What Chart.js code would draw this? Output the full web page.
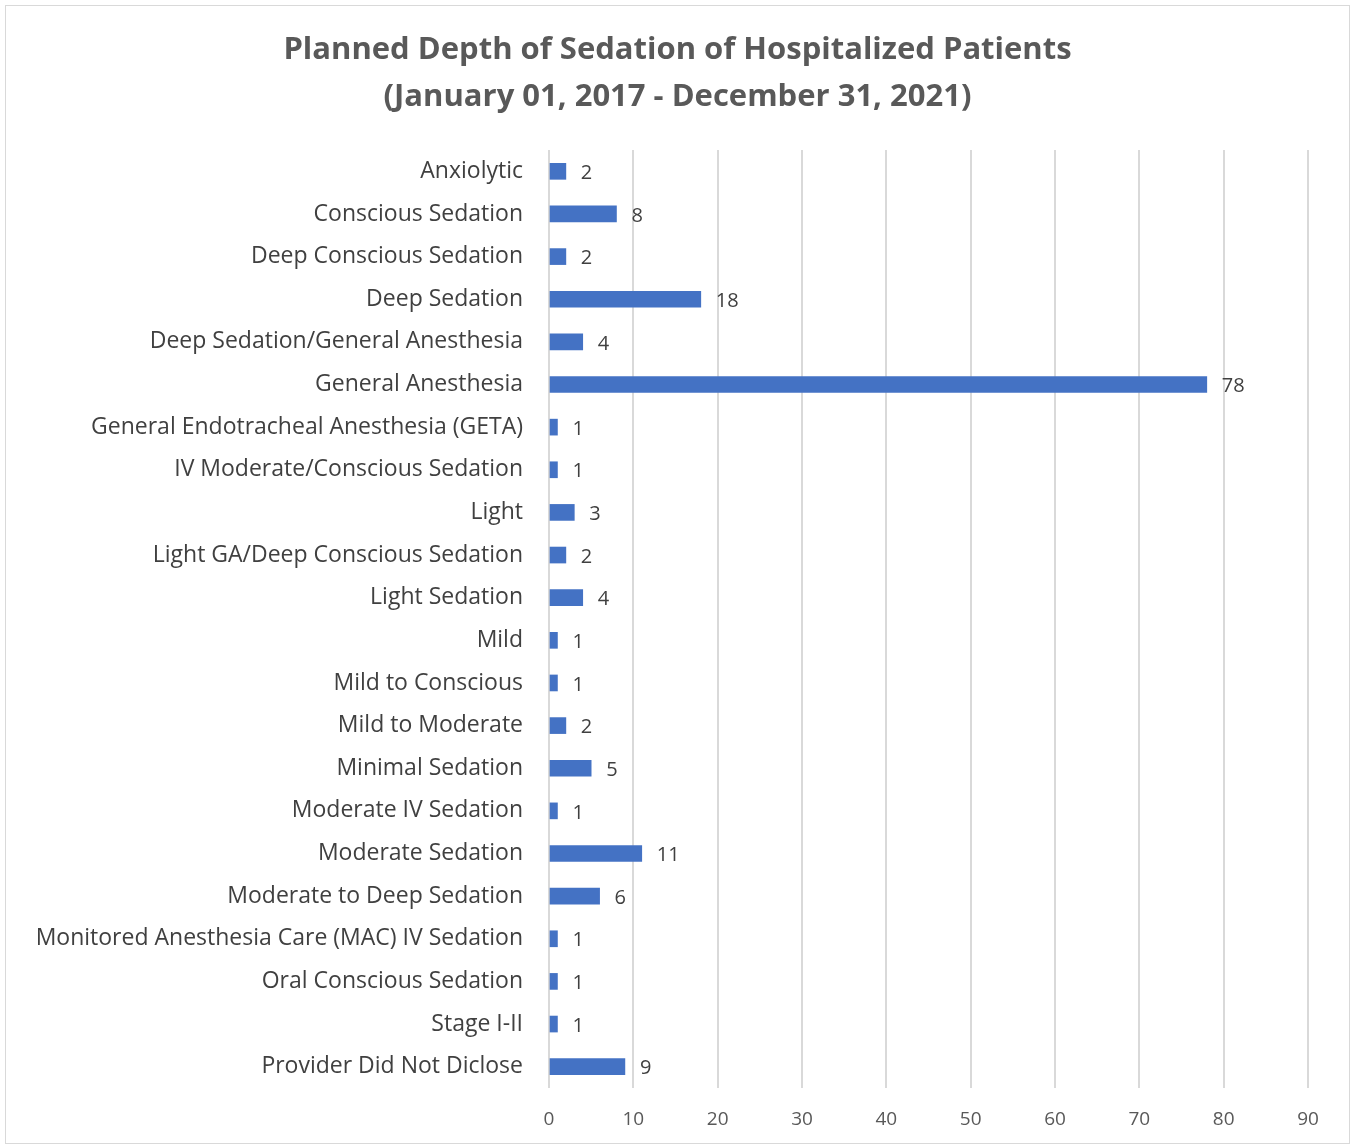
<!DOCTYPE html>
<html>
<head>
<meta charset="utf-8">
<script src="https://cdn.jsdelivr.net/npm/chart.js@4.4.0/dist/chart.umd.min.js"></script>
<style>
  body { margin: 0; background: #fff; }
  #wrap { position: absolute; left: 5px; top: 5px; width: 1343px; height: 1137px; border: 1px solid #d9d9d9; }
</style>
</head>
<body>
<div id="wrap"><canvas id="chart" width="1343" height="1137"></canvas></div>
<script>
// categories, top to bottom
const categories = [
  "Anxiolytic",
  "Conscious Sedation",
  "Deep Conscious Sedation",
  "Deep Sedation",
  "Deep Sedation/General Anesthesia",
  "General Anesthesia",
  "General Endotracheal Anesthesia (GETA)",
  "IV Moderate/Conscious Sedation",
  "Light",
  "Light GA/Deep Conscious Sedation",
  "Light Sedation",
  "Mild",
  "Mild to Conscious",
  "Mild to Moderate",
  "Minimal Sedation",
  "Moderate IV Sedation",
  "Moderate Sedation",
  "Moderate to Deep Sedation",
  "Monitored Anesthesia Care (MAC) IV Sedation",
  "Oral Conscious Sedation",
  "Stage I-II",
  "Provider Did Not Diclose"
];
const patientCounts = [2, 8, 2, 18, 4, 78, 1, 1, 3, 2, 4, 1, 1, 2, 5, 1, 11, 6, 1, 1, 1, 9];
const xTicks = [0, 10, 20, 30, 40, 50, 60, 70, 80, 90];

const FONT = "'Open Sans', sans-serif";

// draw the value next to each bar
const valueLabels = {
  id: 'valueLabels',
  afterDatasetsDraw(chart) {
    const ctx = chart.ctx;
    const meta = chart.getDatasetMeta(0);
    ctx.save();
    ctx.font = "20px " + FONT;
    ctx.fillStyle = "#404040";
    ctx.textAlign = "left";
    ctx.textBaseline = "middle";
    meta.data.forEach((bar, i) => {
      ctx.fillText(patientCounts[i], bar.x + 15, bar.y + 2);
    });
    ctx.restore();
  }
};

// center the title on the whole canvas, not just the padded box
const titleCenter = {
  id: 'titleCenter',
  afterLayout(chart) {
    if (chart.titleBlock) {
      chart.titleBlock.left = 0;
      chart.titleBlock.right = chart.width;
    }
  }
};

new Chart(document.getElementById('chart'), {
  type: 'bar',
  data: {
    labels: categories,
    datasets: [{
      data: patientCounts,
      backgroundColor: "#4472C4",
      barThickness: 16
    }]
  },
  options: {
    indexAxis: 'y',
    responsive: false,
    animation: false,
    layout: { padding: { left: 0, right: 41, top: 0, bottom: 10 } },
    plugins: {
      legend: { display: false },
      tooltip: { enabled: false },
      title: {
        display: true,
        text: ["Planned Depth of Sedation of Hospitalized Patients", "(January 01, 2017 - December 31, 2021)"],
        color: "#595959",
        font: { family: FONT, size: 31, weight: 'bold', lineHeight: 1.5 },
        padding: { top: 21, bottom: 30 }
      }
    },
    scales: {
      x: {
        min: 0,
        max: 90,
        afterBuildTicks(axis) { axis.ticks = xTicks.map(v => ({ value: v })); },
        afterFit(axis) { axis.height = 45; },
        grid: { color: "#d9d9d9", lineWidth: 2, drawTicks: false },
        border: { display: false },
        ticks: { color: "#595959", font: { family: FONT, size: 19 }, padding: 20 }
      },
      y: {
        afterFit(axis) { axis.width = 543; },
        grid: { display: false, drawTicks: false },
        border: { display: false },
        ticks: { color: "#404040", font: { family: FONT, size: 23 }, padding: 26, autoSkip: false }
      }
    }
  },
  plugins: [valueLabels, titleCenter]
});
</script>
</body>
</html>
